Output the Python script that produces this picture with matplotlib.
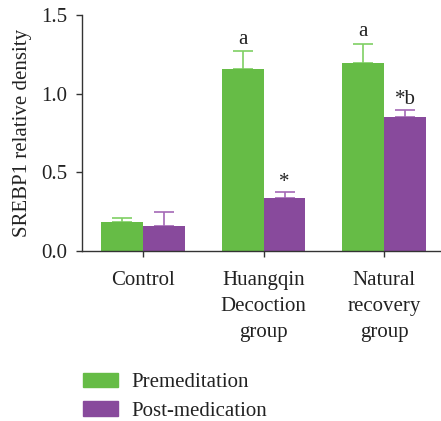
import matplotlib
matplotlib.use("Agg")
import matplotlib.pyplot as plt
import numpy as np
from matplotlib.patches import Patch

groups = ["Control", "Huangqin\nDecoction\ngroup", "Natural\nrecovery\ngroup"]
pre_vals = [0.185, 1.157, 1.195]
pre_err = [0.025, 0.113, 0.123]
post_vals = [0.157, 0.335, 0.851]
post_err = [0.087, 0.037, 0.047]
pre_marks = ["", "a", "a"]
post_marks = ["", "*", "*b"]

green = "#66bc46"
purple = "#884a9c"
green_err = "#7fcf63"
purple_err = "#a468b6"

plt.rcParams["font.family"] = ["Liberation Serif", "DejaVu Serif"]
fs = 15

fig = plt.figure(figsize=(4.41, 4.21), dpi=100)
ax = fig.add_axes([0.186, 0.4045, 0.814, 0.5595])

x = np.arange(len(groups))
w = 0.347
ax.bar(x - w / 2, pre_vals, w, color=green, zorder=2)
ax.bar(x + w / 2, post_vals, w, color=purple, zorder=2)
ax.errorbar(x - w / 2, pre_vals, yerr=[np.zeros(3), pre_err], fmt="none",
            ecolor=green_err, elinewidth=1.2, capsize=7, capthick=1.2, zorder=1)
ax.errorbar(x + w / 2, post_vals, yerr=[np.zeros(3), post_err], fmt="none",
            ecolor=purple_err, elinewidth=1.2, capsize=7, capthick=1.2, zorder=1)

for i in range(len(groups)):
    if pre_marks[i]:
        ax.text(x[i] - w / 2, pre_vals[i] + pre_err[i] + 0.015, pre_marks[i],
                ha="center", va="bottom", fontsize=fs, color="#222222")
    if post_marks[i]:
        ax.text(x[i] + w / 2, post_vals[i] + post_err[i] + 0.005, post_marks[i],
                ha="center", va="bottom", fontsize=fs, color="#222222")

ax.set_ylim(0, 1.5)
ax.set_xlim(-0.504, 2.47)
ax.set_yticks([0, 0.5, 1.0, 1.5])
ax.set_yticklabels(["0.0", "0.5", "1.0", "1.5"])
ax.set_xticks(x)
ax.set_xticklabels(groups, linespacing=1.5)
ax.tick_params(axis="both", labelsize=fs, length=4.5, width=1, color="#333333", labelcolor="#222222")
ax.tick_params(axis="y", pad=6)
ax.tick_params(axis="x", pad=10)
ax.set_ylabel("SREBP1 relative density", fontsize=fs, color="#222222", labelpad=7)
for s in ["top", "right"]:
    ax.spines[s].set_visible(False)
for s in ["left", "bottom"]:
    ax.spines[s].set_color("#333333")
    ax.spines[s].set_linewidth(1)

handles = [Patch(color=green, label="Premeditation"), Patch(color=purple, label="Post-medication")]
fig.legend(handles=handles, loc="upper left", bbox_to_anchor=(0.188, 0.115),
           bbox_transform=fig.transFigure, frameon=False, fontsize=fs, labelcolor="#222222",
           handlelength=1.68, handleheight=0.67, handletextpad=0.67, labelspacing=0.45,
           borderaxespad=0, borderpad=0)

fig.savefig("out.png", dpi=100)
